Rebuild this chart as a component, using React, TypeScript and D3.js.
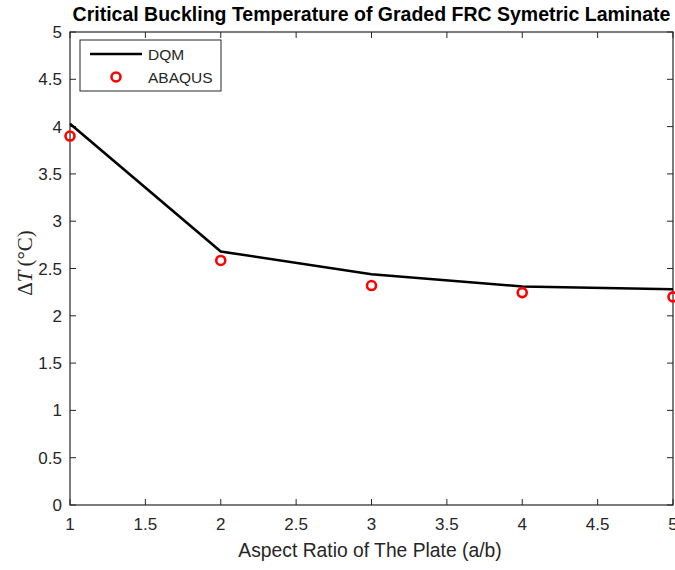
import React from "react";
import * as d3 from "d3";

const aspectRatios = [1, 2, 3, 4, 5];
const dqmValues = [4.03, 2.68, 2.44, 2.31, 2.28];
const abaqusValues = [3.9, 2.585, 2.32, 2.245, 2.2];
const xTicks = [1, 1.5, 2, 2.5, 3, 3.5, 4, 4.5, 5];
const yTicks = [0, 0.5, 1, 1.5, 2, 2.5, 3, 3.5, 4, 4.5, 5];

const W = 675;
const H = 570;
const left = 70;
const right = 673;
const top = 32;
const bottom = 505;

export default function App() {
  const x = d3.scaleLinear().domain([1, 5]).range([left, right]);
  const y = d3.scaleLinear().domain([0, 5]).range([bottom, top]);
  const line = d3
    .line<number>()
    .x((_, i) => x(aspectRatios[i]))
    .y((d) => y(d));
  const axisColor = "#262626";
  const font = "'Liberation Sans', Arial, sans-serif";
  const tickLen = 6;
  return (
    <svg
      width={W}
      height={H}
      style={{ position: "absolute", left: 0, top: 0, background: "#fff" }}
    >
      <rect x={0} y={0} width={W} height={H} fill="#fff" />
      <text
        x={(left + right) / 2}
        y={21}
        textAnchor="middle"
        fontFamily={font}
        fontWeight="bold"
        fontSize={19.5}
        fill="#000"
      >
        Critical Buckling Temperature of Graded FRC Symetric Laminate
      </text>
      {/* axes box */}
      <rect
        x={left}
        y={top}
        width={right - left}
        height={bottom - top}
        fill="none"
        stroke={axisColor}
        strokeWidth={1.2}
      />
      {xTicks.map((t) => (
        <g key={"x" + t}>
          <line x1={x(t)} x2={x(t)} y1={bottom} y2={bottom - tickLen} stroke={axisColor} />
          <line x1={x(t)} x2={x(t)} y1={top} y2={top + tickLen} stroke={axisColor} />
          <text
            x={x(t)}
            y={bottom + 25}
            textAnchor="middle"
            fontFamily={font}
            fontSize={17}
            fill={axisColor}
          >
            {String(t)}
          </text>
        </g>
      ))}
      {yTicks.map((t) => (
        <g key={"y" + t}>
          <line x1={left} x2={left + tickLen} y1={y(t)} y2={y(t)} stroke={axisColor} />
          <line x1={right} x2={right - tickLen} y1={y(t)} y2={y(t)} stroke={axisColor} />
          <text
            x={left - 8}
            y={y(t) + 6}
            textAnchor="end"
            fontFamily={font}
            fontSize={17}
            fill={axisColor}
          >
            {String(t)}
          </text>
        </g>
      ))}
      <text
        x={370}
        y={557}
        textAnchor="middle"
        fontFamily={font}
        fontSize={19.3}
        fill={axisColor}
      >
        Aspect Ratio of The Plate (a/b)
      </text>
      <text
        transform={`translate(32, 263) rotate(-90)`}
        textAnchor="middle"
        fontFamily="'Liberation Serif', 'Times New Roman', serif"
        fontSize={21}
        fill={axisColor}
      >
        Δ<tspan fontStyle="italic">T</tspan>
        <tspan dx={4}>(°C)</tspan>
      </text>
      {/* data */}
      <path d={line(dqmValues) ?? ""} fill="none" stroke="#000" strokeWidth={2.6} />
      {abaqusValues.map((v, i) => (
        <circle
          key={"c" + i}
          cx={x(aspectRatios[i])}
          cy={y(v)}
          r={4.5}
          fill="none"
          stroke="#ff0000"
          strokeWidth={2.6}
        />
      ))}
      {/* legend */}
      <rect x={80} y={40} width={141} height={51} fill="#fff" stroke={axisColor} strokeWidth={1} />
      <line x1={90} x2={142} y1={54} y2={54} stroke="#000" strokeWidth={2.6} />
      <text x={148} y={60} fontFamily={font} fontSize={15.5} fill={axisColor}>
        DQM
      </text>
      <circle cx={116} cy={77} r={4.5} fill="none" stroke="#ff0000" strokeWidth={2.6} />
      <text x={148} y={83} fontFamily={font} fontSize={15.5} fill={axisColor}>
        ABAQUS
      </text>
    </svg>
  );
}
